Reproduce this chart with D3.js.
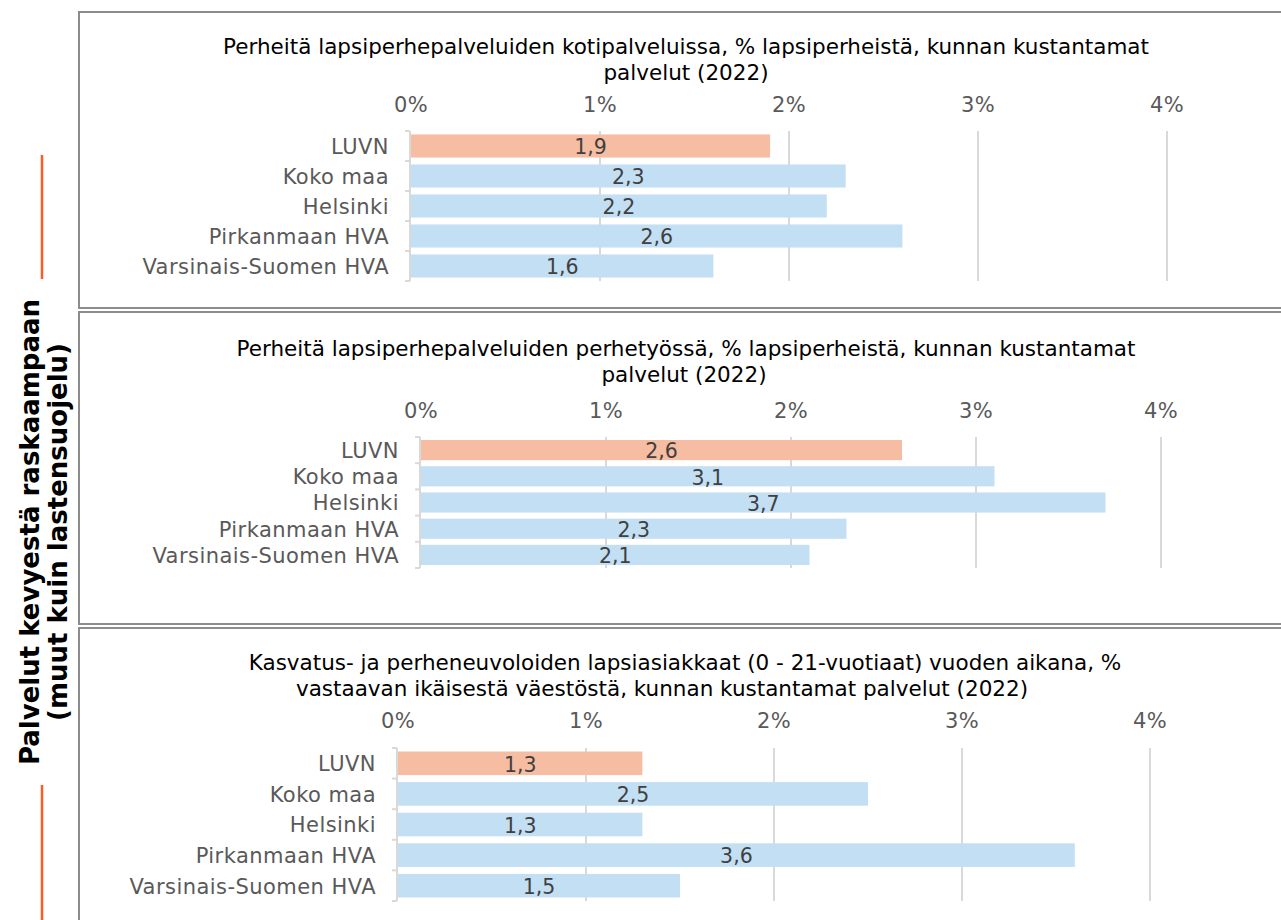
<!DOCTYPE html>
<html>
<head>
<meta charset="utf-8">
<script src="https://cdn.jsdelivr.net/npm/d3@7"></script>
<style>
  body { margin: 0; background: #fff; }
  svg { display: block; font-family: Verdana, "DejaVu Sans", sans-serif; }
</style>
</head>
<body>
<svg id="viz" width="1281" height="920"></svg>
<script>
// data
let categories = ["LUVN", "Koko maa", "Helsinki", "Pirkanmaan HVA", "Varsinais-Suomen HVA"];
let kotipalvelut = [1.9, 2.3, 2.2, 2.6, 1.6];
let perhetyo = [2.6, 3.1, 3.7, 2.3, 2.1];
let kasvatusneuvola = [1.3, 2.5, 1.3, 3.6, 1.5];
let xTicks = [0, 1, 2, 3, 4];

let title1 = ["Perheitä lapsiperhepalveluiden kotipalveluissa, % lapsiperheistä, kunnan kustantamat", "palvelut (2022)"];
let title2 = ["Perheitä lapsiperhepalveluiden perhetyössä, % lapsiperheistä, kunnan kustantamat", "palvelut (2022)"];
let title3 = ["Kasvatus- ja perheneuvoloiden lapsiasiakkaat (0 - 21-vuotiaat) vuoden aikana, %", "vastaavan ikäisestä väestöstä, kunnan kustantamat palvelut (2022)"];

let sideTitle = ["Palvelut kevyestä raskaampaan", "(muut kuin lastensuojelu)"];

// layout of each panel
let panels = [
    { values: kotipalvelut, title: title1, titleX: [686, 686], top: 12, bottom: 308, x0: 411, x4: 1167, y0: 131, y1: 281, tickY: 112, titleY: 54 },
    { values: perhetyo, title: title2, titleX: [686, 684], top: 312, bottom: 624, x0: 421, x4: 1161, y0: 437, y1: 568, tickY: 418, titleY: 356 },
    { values: kasvatusneuvola, title: title3, titleX: [685, 662], top: 628, bottom: 940, x0: 398, x4: 1150, y0: 748, y1: 901, tickY: 728, titleY: 670 }
];

const HIGHLIGHT = "#F7BDA2";
const BAR = "#C3DFF4";
const GRID = "#D9D9D9";

let svg = d3.select("#viz");

// side title + orange markers
svg.append("line")
    .attr("x1", 42).attr("x2", 42).attr("y1", 155).attr("y2", 279)
    .attr("stroke", "#FF5B1F").attr("stroke-width", 2.5);
svg.append("line")
    .attr("x1", 42).attr("x2", 42).attr("y1", 785).attr("y2", 920)
    .attr("stroke", "#FF5B1F").attr("stroke-width", 2.5);

let side = svg.append("text")
    .attr("transform", "translate(39,532) rotate(-90)")
    .attr("text-anchor", "middle")
    .style("font-weight", "bold")
    .style("font-size", "26px")
    .attr("fill", "#000");
sideTitle.forEach(function(t, i) {
    side.append("tspan").attr("x", 0).attr("dy", i == 0 ? 0 : 28).text(t);
});

function drawPanel(p)
{
    let g = svg.append("g");

    g.append("rect")
        .attr("x", 79).attr("y", p.top)
        .attr("width", 1260).attr("height", p.bottom - p.top)
        .attr("fill", "none")
        .attr("stroke", "#8C8C8C")
        .attr("stroke-width", 2);

    let x = d3.scaleLinear().domain([0, 4]).range([p.x0, p.x4]);
    let y = d3.scaleBand().domain(categories).range([p.y0, p.y1]).paddingInner(0.23).paddingOuter(0.115);

    // title
    g.selectAll("text.title")
        .data(p.title)
        .enter()
        .append("text")
        .attr("class", "title")
        .attr("x", function(d, i) { return p.titleX[i]; })
        .attr("y", function(d, i) { return p.titleY + i * 26; })
        .attr("text-anchor", "middle")
        .style("font-size", "21.5px")
        .attr("fill", "#000")
        .text(function(d) { return d; });

    // gridlines
    g.selectAll("line.grid")
        .data(xTicks.slice(1))
        .enter()
        .append("line")
        .attr("x1", function(d) { return x(d); })
        .attr("x2", function(d) { return x(d); })
        .attr("y1", p.y0)
        .attr("y2", p.y1)
        .attr("stroke", GRID)
        .attr("stroke-width", 2);

    // top axis labels
    g.selectAll("text.tick")
        .data(xTicks)
        .enter()
        .append("text")
        .attr("x", function(d) { return x(d); })
        .attr("y", p.tickY)
        .attr("text-anchor", "middle")
        .style("font-size", "21px")
        .style("letter-spacing", "0.3px")
        .attr("fill", "#595959")
        .text(function(d) { return d + "%"; });

    // category axis
    g.append("line")
        .attr("x1", p.x0 - 1).attr("x2", p.x0 - 1)
        .attr("y1", p.y0).attr("y2", p.y1)
        .attr("stroke", GRID).attr("stroke-width", 2);
    let step = (p.y1 - p.y0) / categories.length;
    g.selectAll("line.ctick")
        .data(d3.range(categories.length + 1))
        .enter()
        .append("line")
        .attr("x1", p.x0 - 6).attr("x2", p.x0 - 1)
        .attr("y1", function(i) { return p.y0 + i * step; })
        .attr("y2", function(i) { return p.y0 + i * step; })
        .attr("stroke", GRID).attr("stroke-width", 2);

    g.selectAll("text.cat")
        .data(categories)
        .enter()
        .append("text")
        .attr("x", p.x0 - 22)
        .attr("y", function(d) { return y(d) + y.bandwidth() / 2; })
        .attr("dy", "0.38em")
        .attr("text-anchor", "end")
        .style("font-size", "21px")
        .style("letter-spacing", "0.45px")
        .attr("fill", "#595959")
        .text(function(d) { return d; });

    // bars
    let rows = categories.map(function(c, i) { return { cat: c, value: p.values[i] }; });

    g.selectAll("rect.bar")
        .data(rows)
        .enter()
        .append("rect")
        .attr("x", x(0))
        .attr("y", function(d) { return y(d.cat); })
        .attr("width", function(d) { return x(d.value) - x(0); })
        .attr("height", y.bandwidth())
        .attr("fill", function(d, i) { return i == 0 ? HIGHLIGHT : BAR; });

    g.selectAll("text.val")
        .data(rows)
        .enter()
        .append("text")
        .attr("x", function(d) { return (x(0) + x(d.value)) / 2; })
        .attr("y", function(d) { return y(d.cat) + y.bandwidth() / 2; })
        .attr("dy", "0.4em")
        .attr("text-anchor", "middle")
        .style("font-size", "20.5px")
        .attr("fill", "#404040")
        .text(function(d) { return d3.format(".1f")(d.value).replace(".", ","); });
}

panels.forEach(drawPanel);
</script>
</body>
</html>
